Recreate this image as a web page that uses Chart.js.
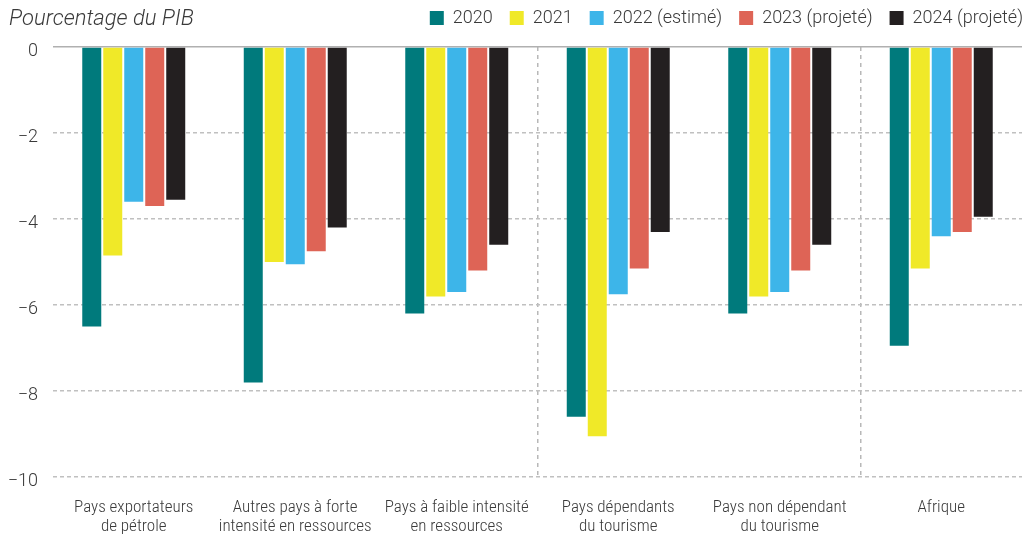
<!DOCTYPE html>
<html lang="fr">
<head>
<meta charset="utf-8">
<title>Solde budgétaire</title>
<script src="https://cdn.jsdelivr.net/npm/chart.js@4/dist/chart.umd.min.js"></script>
<style>
  html, body { margin: 0; padding: 0; background: #fff; }
  #wrap { width: 1022px; height: 535px; position: relative; }
</style>
</head>
<body>
<div id="wrap"><canvas id="graphique"></canvas></div>
<script>
// Catégories de pays (libellés sur deux lignes)
const categories = [
  ['Pays exportateurs', 'de pétrole'],
  ['Autres pays à forte', 'intensité en ressources'],
  ['Pays à faible intensité', 'en ressources'],
  ['Pays dépendants', 'du tourisme'],
  ['Pays non dépendant', 'du tourisme'],
  ['Afrique']
];

// Solde en pourcentage du PIB
const annees = ['2020', '2021', '2022 (estimé)', '2023 (projeté)', '2024 (projeté)'];
const v2020 = [-6.5, -7.8, -6.2, -8.6, -6.2, -6.95];
const v2021 = [-4.85, -5.0, -5.8, -9.05, -5.8, -5.15];
const v2022 = [-3.6, -5.05, -5.7, -5.75, -5.7, -4.4];
const v2023 = [-3.7, -4.75, -5.2, -5.15, -5.2, -4.3];
const v2024 = [-3.55, -4.2, -4.6, -4.3, -4.6, -3.95];
const yTicks = [0, -2, -4, -6, -8, -10];

const couleurs = ['#007a7c', '#f0e928', '#3db5e9', '#de6456', '#231f20'];
const series = [v2020, v2021, v2022, v2023, v2024];

const police = "'Roboto', 'Liberation Sans', sans-serif";
const policeEtroite = "'Roboto Condensed', 'Liberation Sans Narrow', 'Roboto', sans-serif";
const gris = '#3a3a3a';

// titre de l'axe, en haut à gauche + recalage de la légende
const titrePIB = {
  id: 'titrePIB',
  afterLayout(chart) {
    const l = chart.legend;
    l.left += 15; l.right += 15;
    l.top -= 10; l.bottom -= 10;
  },
  afterDraw(chart) {
    const c = chart.ctx;
    c.save();
    c.font = "italic 300 22px " + police;
    c.fillStyle = gris;
    c.textBaseline = 'alphabetic';
    c.fillText('Pourcentage du PIB', 9, 25);
    c.restore();
  }
};

const ctx = document.getElementById('graphique').getContext('2d');
const graphique = new Chart(ctx, {
  type: 'bar',
  data: {
    labels: categories,
    datasets: series.map((d, i) => ({
      label: annees[i],
      data: d,
      backgroundColor: couleurs[i],
      borderWidth: 0,
      categoryPercentage: 0.65,
      barPercentage: 0.905
    }))
  },
  options: {
    responsive: true,
    maintainAspectRatio: false,
    animation: false,
    layout: { padding: { top: 2, right: -3, bottom: 0, left: 0 } },
    plugins: {
      legend: {
        position: 'top',
        align: 'end',
        labels: {
          boxWidth: 14,
          boxHeight: 14,
          padding: 17,
          color: gris,
          font: { family: police, size: 18, weight: '300' }
        }
      },
      tooltip: { enabled: false }
    },
    scales: {
      x: {
        afterFit: (scale) => { scale.height = 58; },
        grid: {
          display: true,
          drawTicks: false,
          // séparateurs verticaux entre certains groupes
          color: (c) => (c.index === 3 || c.index === 5) ? '#b8b8b8' : 'rgba(0,0,0,0)',
          lineWidth: 1.5
        },
        border: { display: false, dash: [4, 4] },
        ticks: {
          color: gris,
          padding: 21,
          maxRotation: 0,
          autoSkip: false,
          font: { family: policeEtroite, size: 17, weight: '300', lineHeight: 1.13 }
        }
      },
      y: {
        min: -10,
        max: 0,
        afterFit: (scale) => { scale.width = 53; },
        afterBuildTicks: (scale) => { scale.ticks = yTicks.map(v => ({ value: v })); },
        grid: {
          drawTicks: false,
          color: (c) => c.tick && c.tick.value === 0 ? '#b0b0b0' : '#c0c0c0',
          lineWidth: 1.5
        },
        border: {
          display: false,
          dash: (c) => c.tick && c.tick.value === 0 ? [] : [4, 3]
        },
        ticks: {
          color: gris,
          padding: 15,
          labelOffset: 4,
          font: { family: police, size: 18, weight: '300' },
          callback: (v) => String(v).replace('-', '\u2212')
        }
      }
    }
  },
  plugins: [titrePIB]
});
</script>
</body>
</html>
